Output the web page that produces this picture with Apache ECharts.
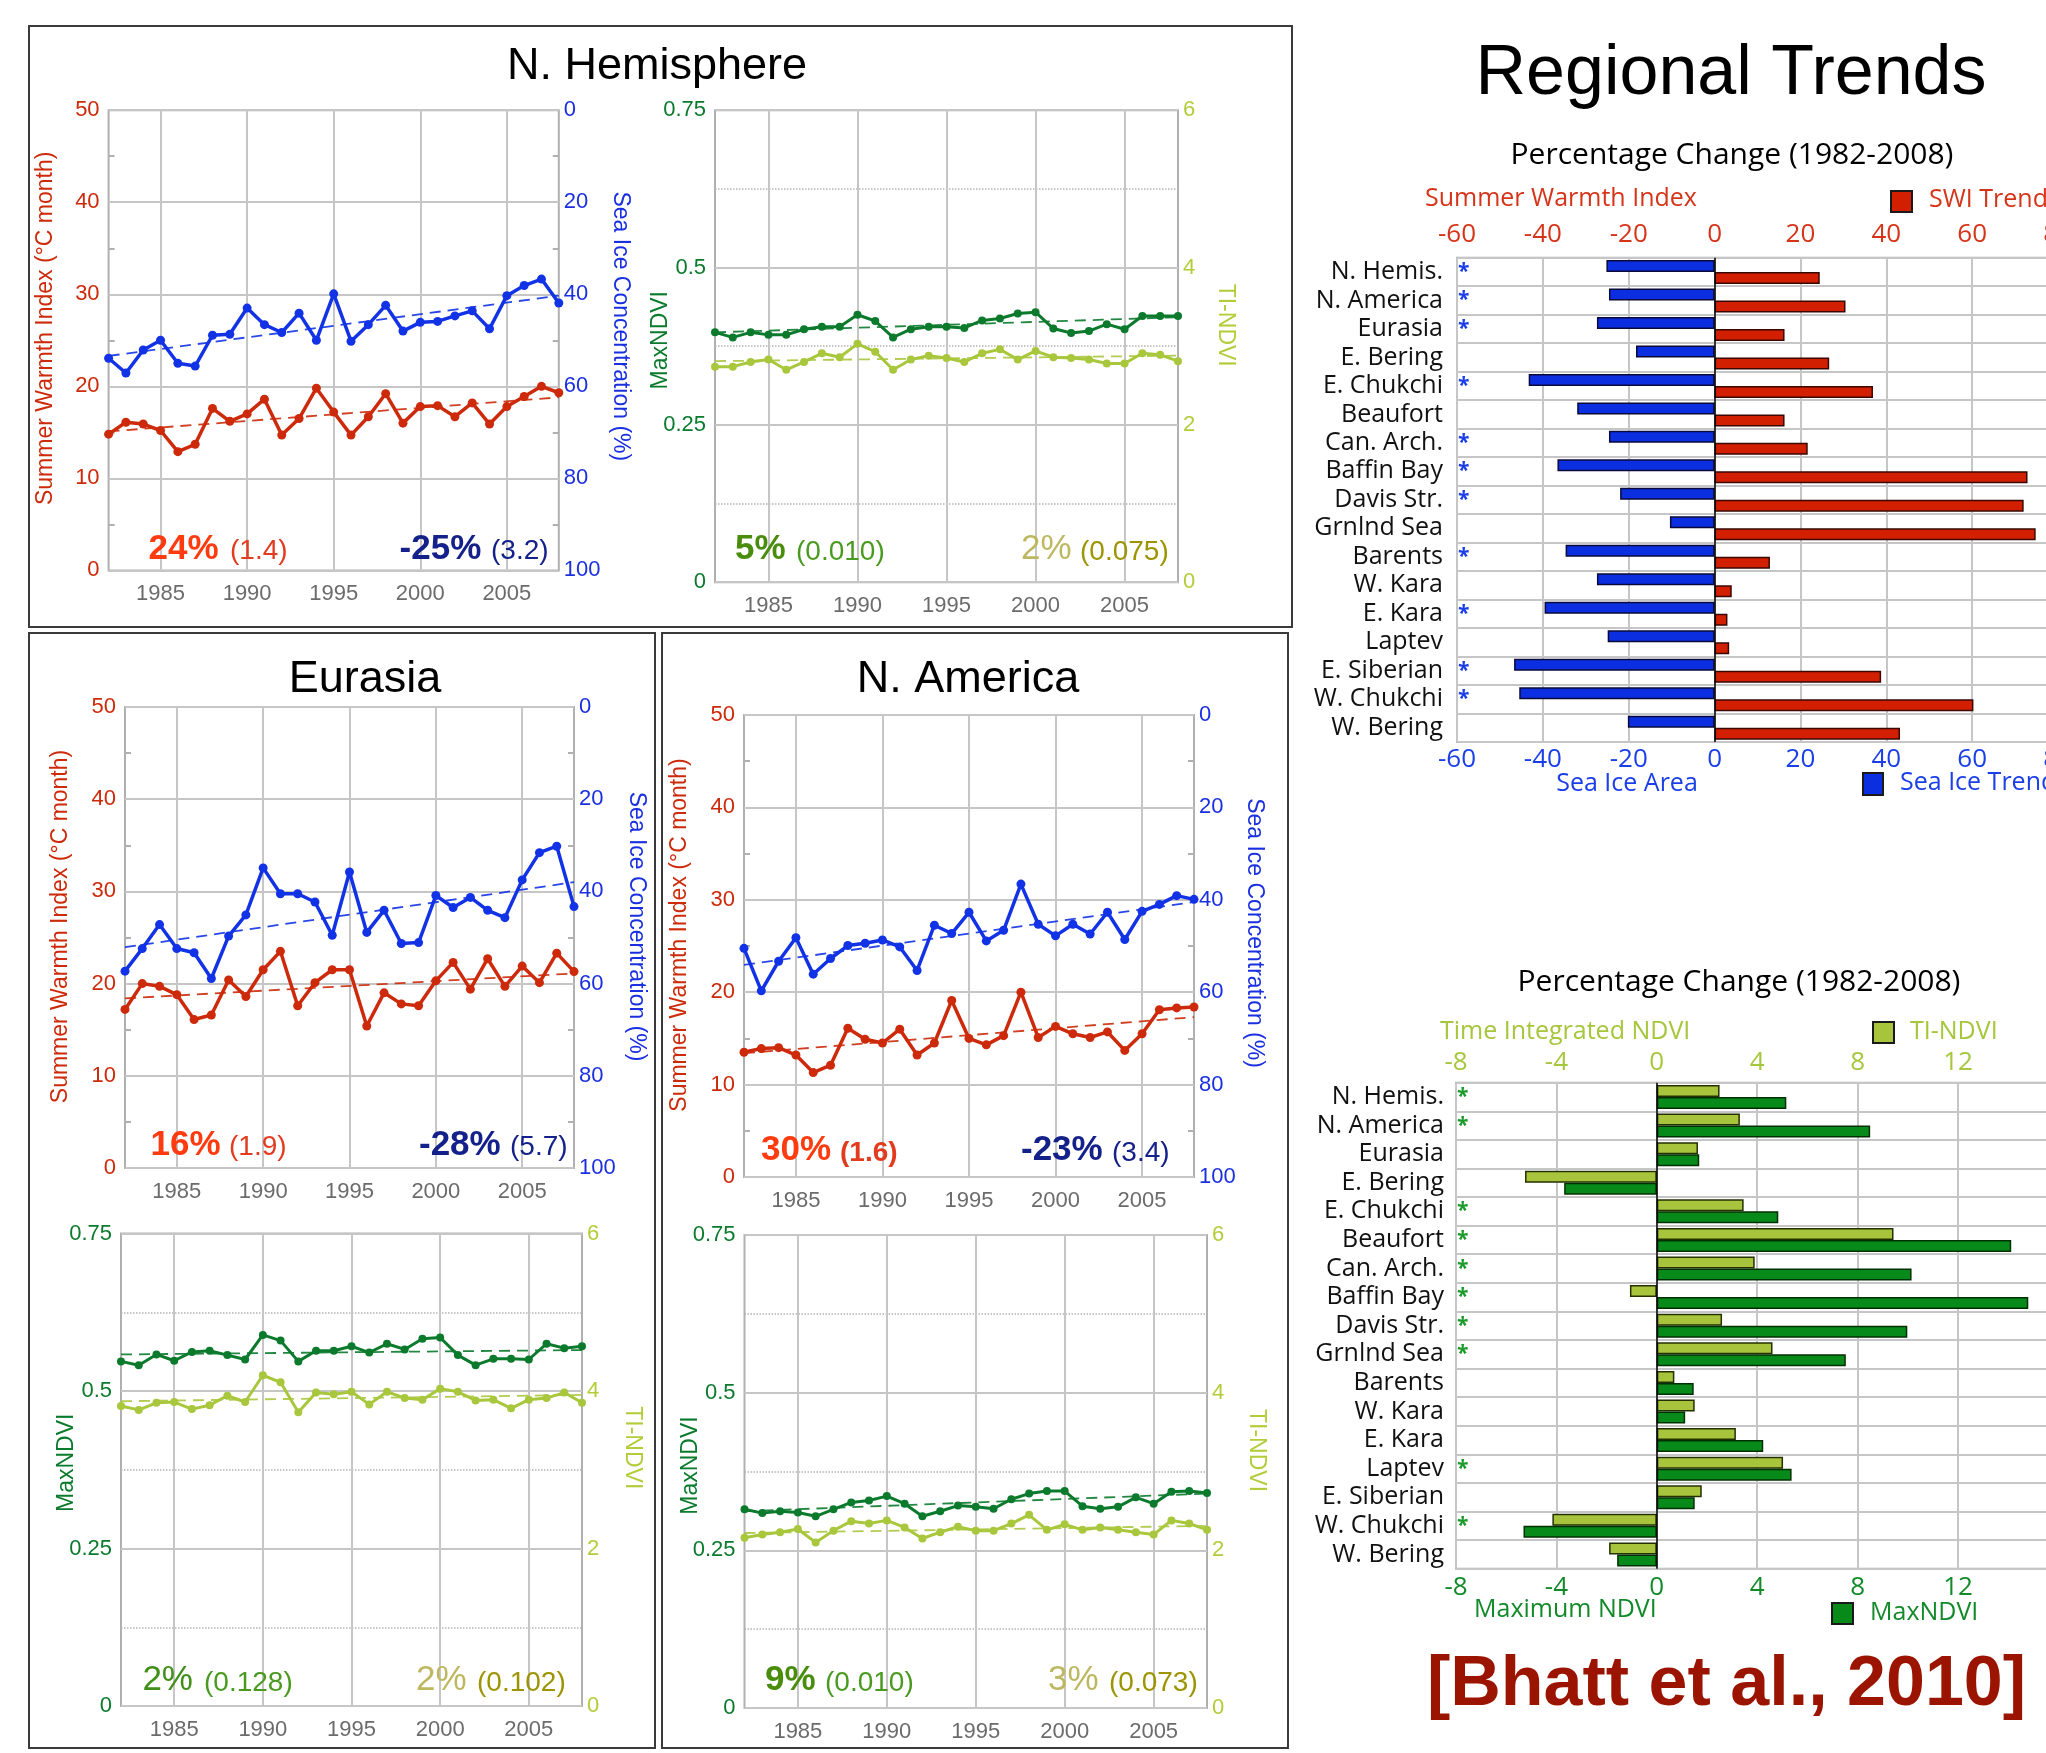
<!DOCTYPE html>
<html><head><meta charset="utf-8">
<script src="https://cdn.jsdelivr.net/npm/echarts@6/dist/echarts.min.js"></script>
<style>html,body{margin:0;padding:0;background:#fff;overflow:hidden}#c{width:2046px;height:1753px}</style>
</head><body><div id="c"></div><script>
// ---------- data ----------
const years = ['1982','1983','1984','1985','1986','1987','1988','1989','1990','1991','1992','1993','1994','1995','1996','1997','1998','1999','2000','2001','2002','2003','2004','2005','2006','2007','2008'];

const nhSwi = [14.8,16.1,15.9,15.2,12.9,13.7,17.6,16.2,17.0,18.6,14.7,16.5,19.8,17.2,14.7,16.7,19.2,16.0,17.8,17.9,16.7,18.2,15.9,17.8,18.9,20.0,19.3];
const nhIce = [53.9,57.1,52.1,50.0,55.0,55.6,48.9,48.7,43.0,46.6,48.3,44.1,50.0,39.9,50.2,46.6,42.4,48.0,46.1,45.9,44.7,43.6,47.5,40.3,38.1,36.7,41.9];
const nhMax = [0.397,0.389,0.397,0.393,0.393,0.402,0.406,0.406,0.425,0.415,0.389,0.402,0.406,0.406,0.404,0.416,0.419,0.427,0.429,0.403,0.396,0.399,0.410,0.402,0.423,0.423,0.423];
const nhTi = [2.74,2.74,2.80,2.83,2.70,2.80,2.91,2.86,3.03,2.93,2.70,2.83,2.88,2.85,2.80,2.91,2.96,2.83,2.94,2.86,2.85,2.83,2.78,2.78,2.91,2.89,2.81];
const nhSwiFit = [15.1, 18.8], nhIceFit = [53.4, 40.3], nhMaxFit = [0.397, 0.421], nhTiFit = [2.81, 2.88];

const euSwi = [17.2,20.0,19.7,18.8,16.1,16.6,20.4,18.6,21.5,23.5,17.6,20.1,21.5,21.5,15.4,19.0,17.8,17.6,20.3,22.3,19.4,22.7,19.7,21.9,20.1,23.3,21.3];
const euIce = [57.3,52.4,47.2,52.4,53.3,58.9,49.7,45.1,34.9,40.5,40.5,42.3,49.5,35.8,48.9,44.1,51.3,51.1,40.9,43.5,41.3,44.1,45.7,37.5,31.6,30.2,43.3];
const euMax = [0.547,0.541,0.558,0.548,0.562,0.564,0.557,0.550,0.589,0.580,0.547,0.564,0.564,0.571,0.561,0.575,0.566,0.583,0.585,0.557,0.541,0.551,0.551,0.550,0.575,0.568,0.571];
const euTi = [3.81,3.76,3.85,3.86,3.77,3.82,3.94,3.86,4.20,4.11,3.73,3.98,3.96,3.99,3.83,3.99,3.91,3.89,4.03,3.99,3.88,3.89,3.78,3.89,3.91,3.98,3.85];
const euSwiFit = [18.4, 21.1], euIceFit = [52.1, 38.0], euMaxFit = [0.558, 0.565], euTiFit = [3.87, 3.95];

const naSwi = [13.5,13.9,14.0,13.2,11.3,12.1,16.1,14.9,14.5,16.0,13.2,14.5,19.1,15.0,14.3,15.3,20.0,15.1,16.3,15.5,15.1,15.7,13.7,15.5,18.1,18.3,18.4];
const naIce = [50.5,59.7,53.3,48.2,56.1,52.7,49.9,49.4,48.7,50.2,55.3,45.5,47.3,42.7,48.9,46.6,36.6,45.3,47.8,45.3,47.4,42.7,48.6,42.5,41.0,39.1,39.9];
const naMax = [0.315,0.309,0.312,0.310,0.304,0.315,0.326,0.329,0.336,0.324,0.304,0.312,0.321,0.319,0.316,0.331,0.340,0.344,0.344,0.320,0.316,0.319,0.334,0.324,0.343,0.344,0.341];
const naTi = [2.16,2.20,2.23,2.27,2.10,2.25,2.37,2.34,2.38,2.29,2.15,2.23,2.30,2.25,2.25,2.34,2.45,2.26,2.33,2.26,2.29,2.26,2.23,2.20,2.38,2.34,2.26];
const naSwiFit = [13.4, 17.3], naIceFit = [54.1, 40.5], naMaxFit = [0.312, 0.340], naTiFit = [2.22, 2.31];

const regions = ['N. Hemis.','N. America','Eurasia','E. Bering','E. Chukchi','Beaufort','Can. Arch.','Baffin Bay','Davis Str.','Grnlnd Sea','Barents','W. Kara','E. Kara','Laptev','E. Siberian','W. Chukchi','W. Bering'];
const seaIceArea = [-25.2,-24.6,-27.4,-18.3,-43.3,-32.0,-24.6,-36.6,-22.0,-10.4,-34.7,-27.4,-39.6,-24.9,-46.7,-45.5,-20.2];
const swiPct = [24.5,30.5,16.3,26.7,36.9,16.3,21.7,72.9,72.0,74.8,12.9,4.0,3.0,3.4,38.8,60.3,43.2];
const tiNdviPct = [2.5,3.31,1.64,-5.25,3.46,9.43,3.90,-1.07,2.60,4.61,0.70,1.51,3.15,5.03,1.79,-4.16,-1.90];
const maxNdviPct = [5.16,8.5,1.69,-3.69,4.84,14.12,10.15,14.8,9.98,7.53,1.47,1.13,4.24,5.37,1.51,-5.31,-1.58];
const iceSig = [1,1,1,0,1,0,1,1,1,0,1,0,1,0,1,1,0];
const ndviSig = [1,1,0,0,1,1,1,1,1,1,0,0,0,1,0,1,0];

const swiTicks = [-60,-40,-20,0,20,40,60,80];
const ndviTicks = [-8,-4,0,4,8,12,16];

// ---------- styling ----------
const ARIAL = '"Liberation Sans", Arial, Helvetica, sans-serif';
const OPEN = '"Open Sans", sans-serif';
const C = {
  swi: '#cc2a0a', ice: '#1232e6', max: '#0b7a2c', ti: '#a9c73d',
  swiLab: '#cc2a0a', iceLab: '#1a30e0', maxLab: '#0b7a2c', tiLab: '#b3cd3a',
  grid: '#c6c6c6', frame: '#b0b0b0', year: '#6b6b6b'
};

const grids = [], xAxis = [], yAxis = [], series = [];

function lineChart(o) {
  const gi = grids.length;
  grids.push({left: o.rect[0], top: o.rect[1], width: o.rect[2], height: o.rect[3], show: true,
    borderColor: C.frame, borderWidth: 2, backgroundColor: '#fff', containLabel: false, outerBoundsMode: 'none'});
  const xi = xAxis.length;
  xAxis.push({gridIndex: gi, type: 'category', data: years, boundaryGap: false,
    axisLine: {show: false}, axisTick: {show: false},
    axisLabel: {interval: (i, v) => Number(v) % 5 === 0, color: C.year, fontSize: 22, fontFamily: ARIAL, margin: 13},
    splitLine: {show: true, interval: (i, v) => Number(v) % 5 === 0, lineStyle: {color: C.grid, width: 2}}});
  const L = o.left, R = o.right;
  const yl = yAxis.length;
  yAxis.push(Object.assign({gridIndex: gi, type: 'value', position: 'left', min: L.min, max: L.max, interval: L.interval,
    name: L.name, nameLocation: 'middle', nameRotate: 90, nameGap: L.gap, nameMoveOverlap: false,
    nameTextStyle: {color: L.color, fontSize: 23, fontFamily: ARIAL, padding: [0, 0, 0, L.up * 2]},
    axisLine: {show: false}, axisTick: {show: false, inside: true},
    axisLabel: {color: L.color, fontSize: 22, fontFamily: ARIAL, margin: 9, padding: [0, 0, 8, 0]},
    splitLine: {show: true, lineStyle: {color: C.grid, width: 2}}}, o.extra));
  const yr = yAxis.length;
  yAxis.push(Object.assign({gridIndex: gi, type: 'value', position: 'right', min: R.min, max: R.max, interval: R.interval,
    inverse: !!R.inverse,
    name: R.name, nameLocation: 'middle', nameRotate: -90, nameGap: R.gap, nameMoveOverlap: false,
    nameTextStyle: {color: R.color, fontSize: 23, fontFamily: ARIAL, padding: [0, R.up * 2, 0, 0]},
    axisLine: {show: false}, axisTick: {show: false, inside: true},
    axisLabel: {color: R.color, fontSize: 22, fontFamily: ARIAL, margin: 5, padding: [12, 0, 0, 0]},
    splitLine: {show: false}}, o.extraR));
  for (const s of o.series) {
    const ya = s.axis === 'r' ? yr : yl;
    series.push({type: 'line', xAxisIndex: xi, yAxisIndex: ya, data: s.data, symbol: 'circle', symbolSize: s.size,
      showSymbol: true, lineStyle: {color: s.color, width: s.width}, itemStyle: {color: s.color}, z: 4, silent: true});
    series.push({type: 'line', xAxisIndex: xi, yAxisIndex: ya,
      data: [[years[0], s.fit[0]], [years[years.length - 1], s.fit[1]]], symbol: 'none',
      lineStyle: {color: s.color, width: 1.8, type: [11, 7], opacity: 0.9}, z: 3, silent: true});
  }
}

function swiChart(rect, swi, ice, swiFit, iceFit, g) {
  lineChart({rect,
    left: {min: 0, max: 50, interval: 10, name: 'Summer Warmth Index (°C month)', color: C.swiLab, gap: g[0], up: g[1]},
    right: {min: 0, max: 100, interval: 20, inverse: true, name: 'Sea Ice Concentration (%)', color: C.iceLab, gap: g[2], up: g[3]},
    extra: {minorTick: {show: true, splitNumber: 2, length: 6, lineStyle: {color: C.frame, width: 2}}},
    extraR: {minorTick: {show: true, splitNumber: 2, length: 6, lineStyle: {color: C.frame, width: 2}}},
    series: [
      {data: ice, fit: iceFit, color: C.ice, axis: 'r', size: 9, width: 3.5},
      {data: swi, fit: swiFit, color: C.swi, axis: 'l', size: 9, width: 3.5}
    ]});
}
function ndviChart(rect, mx, ti, mxFit, tiFit, g) {
  lineChart({rect,
    left: {min: 0, max: 0.75, interval: 0.25, name: 'MaxNDVI', color: C.maxLab, gap: g[0], up: g[1]},
    right: {min: 0, max: 6, interval: 2, name: 'TI-NDVI', color: C.tiLab, gap: g[2], up: g[3]},
    extra: {minorTick: {show: false, splitNumber: 2}, minorSplitLine: {show: true, lineStyle: {color: '#b4b4b4', type: 'dotted', width: 1.5}}},
    extraR: {},
    series: [
      {data: ti, fit: tiFit, color: C.ti, axis: 'r', size: 8, width: 3},
      {data: mx, fit: mxFit, color: C.max, axis: 'l', size: 8, width: 3}
    ]});
}

swiChart([108.6, 110.2, 450.2, 460.2], nhSwi, nhIce, nhSwiFit, nhIceFit, [51, 12, 50, 14]);
ndviChart([715, 110.2, 463, 472], nhMax, nhTi, nhMaxFit, nhTiFit, [43, 6, 36, 21]);
swiChart([125, 707, 449, 461], euSwi, euIce, euSwiFit, euIceFit, [53, 11, 51, 11]);
swiChart([744, 715, 450, 462], naSwi, naIce, naSwiFit, naIceFit, [53, 11, 49, 13]);
ndviChart([121, 1233.5, 461, 472.5], euMax, euTi, euMaxFit, euTiFit, [43, 7, 39, 22]);
ndviChart([744.5, 1235, 462.5, 473], naMax, naTi, naMaxFit, naTiFit, [42, 6, 38, 21]);

function barChart(o) {
  const gi = grids.length;
  grids.push({left: o.rect[0], top: o.rect[1], width: o.rect[2], height: o.rect[3], show: true,
    borderColor: C.frame, borderWidth: 2, containLabel: false, outerBoundsMode: 'none'});
  const min = o.ticks[0], max = o.ticks[o.ticks.length - 1], interval = o.ticks[1] - o.ticks[0];
  const xt = xAxis.length;
  xAxis.push({gridIndex: gi, type: 'value', position: 'top', min, max, interval,
    axisLine: {show: false}, axisTick: {show: false},
    axisLabel: {color: o.topColor, fontSize: 26, fontFamily: OPEN, margin: o.topMargin},
    splitLine: {show: true, lineStyle: {color: C.grid, width: 2}}});
  const xb = xAxis.length;
  xAxis.push({gridIndex: gi, type: 'value', position: 'bottom', min, max, interval,
    axisLine: {show: false}, axisTick: {show: false},
    axisLabel: {color: o.botColor, fontSize: 26, fontFamily: OPEN, margin: o.botMargin},
    splitLine: {show: false}});
  const yc = yAxis.length;
  yAxis.push({gridIndex: gi, type: 'category', data: regions, inverse: true, position: 'left',
    axisLine: {show: false}, axisTick: {show: false},
    axisLabel: {interval: 0, color: '#111', fontSize: 25, fontFamily: OPEN, margin: o.catMargin, padding: [0, 0, 8, 0]},
    splitLine: {show: true, interval: 0, lineStyle: {color: C.grid, width: 2}}});
  const ys = yAxis.length;
  yAxis.push({gridIndex: gi, type: 'category', data: regions, inverse: true, position: 'left',
    axisLine: {show: false}, axisTick: {show: false}, splitLine: {show: false},
    axisLabel: {interval: 0, inside: true, margin: 1, formatter: (v, i) => (o.sig[i] ? '*' : ''),
      color: o.starColor, fontSize: 21, fontWeight: 'bold', fontFamily: OPEN, padding: [31, 0, 0, 0]}});
  series.push({type: 'bar', xAxisIndex: o.first.top ? xt : xb, yAxisIndex: yc, data: o.first.data,
    barWidth: 12, barGap: '0%', silent: true,
    itemStyle: {color: o.first.color, borderColor: o.first.border, borderWidth: 1.5}});
  series.push({type: 'bar', xAxisIndex: o.second.top ? xt : xb, yAxisIndex: yc, data: o.second.data,
    barWidth: 12, barGap: '0%', silent: true,
    itemStyle: {color: o.second.color, borderColor: o.second.border, borderWidth: 1.5},
    markLine: {silent: true, symbol: ['none', 'none'], label: {show: false},
      lineStyle: {color: '#000', width: 1.5, type: 'solid'}, data: [{xAxis: 0}]}});
}

barChart({rect: [1457, 257.7, 601, 484.3], ticks: swiTicks,
  topColor: '#d63418', botColor: '#1a3ee8', topMargin: 10, botMargin: 5, catMargin: 14,
  sig: iceSig, starColor: '#1a3ee8',
  first: {data: seaIceArea, color: '#0a2ee0', border: '#0a0a3a', top: false},
  second: {data: swiPct, color: '#d21f00', border: '#3a0800', top: true}});
barChart({rect: [1456, 1082.7, 602.4, 486], ticks: ndviTicks,
  topColor: '#a6c63c', botColor: '#138a2a', topMargin: 7, botMargin: 6, catMargin: 12,
  sig: ndviSig, starColor: '#1a9a2a',
  first: {data: tiNdviPct, color: '#a8c43c', border: '#243000', top: true},
  second: {data: maxNdviPct, color: '#078a1a', border: '#033003', top: false}});

// ---------- graphic text & frames ----------
const graphic = [];
function rect(x, y, w, h) {
  graphic.push({type: 'rect', shape: {x, y, width: w, height: h}, style: {fill: 'none', stroke: '#3a3a3a', lineWidth: 2}, z: 50});
}
function txt(x, y, text, font, fill, align) {
  graphic.push({type: 'text', x, y, z: 60, style: {text, font, fill, align: align || 'left', verticalAlign: 'middle'}});
}
function ann(x, base, text, size, bold, fill) {
  txt(x, base - 0.35 * size, text, (bold ? 'bold ' : '') + size + 'px ' + ARIAL, fill, 'left');
}
function box(x, y, w, h, fill) {
  graphic.push({type: 'rect', shape: {x, y, width: w, height: h}, style: {fill, stroke: '#1a1a1a', lineWidth: 2}, z: 60});
}

rect(29, 26, 1263, 601);
rect(29, 633, 626, 1115);
rect(662, 633, 626, 1115);

txt(657, 67, 'N. Hemisphere', '45px ' + ARIAL, '#000', 'center');
txt(365, 680, 'Eurasia', '45px ' + ARIAL, '#000', 'center');
txt(968, 680, 'N. America', '45px ' + ARIAL, '#000', 'center');

const P_SWI = '#ff3b0f', P_SWI2 = '#e33b1f', P_ICE = '#15218a', P_MAX = '#4a8c0c', P_MAX2 = '#4a9a20', P_TI = '#bdb860', P_TI2 = '#9c9400';
// N. Hemisphere
ann(148.6, 561.5, '24%', 35, true, P_SWI); ann(230, 561.5, '(1.4)', 28, false, P_SWI2);
ann(399.6, 561.5, '-25%', 35, true, P_ICE); ann(491, 561.5, '(3.2)', 28, false, P_ICE);
ann(735, 562, '5%', 35, true, P_MAX); ann(796, 562, '(0.010)', 28, false, P_MAX2);
ann(1021, 562, '2%', 35, false, P_TI); ann(1080, 562, '(0.075)', 28, false, P_TI2);
// Eurasia
ann(150.6, 1157.5, '16%', 35, true, P_SWI); ann(229, 1157.5, '(1.9)', 28, false, P_SWI2);
ann(419, 1157.5, '-28%', 35, true, P_ICE); ann(510, 1157.5, '(5.7)', 28, false, P_ICE);
ann(142.4, 1693, '2%', 35, false, '#3f8f18'); ann(204, 1693, '(0.128)', 28, false, P_MAX2);
ann(416, 1693, '2%', 35, false, P_TI); ann(477, 1693, '(0.102)', 28, false, P_TI2);
// N. America
ann(761, 1163, '30%', 35, true, P_SWI); ann(840, 1163, '(1.6)', 28, true, P_SWI2);
ann(1021, 1163, '-23%', 35, true, P_ICE); ann(1112, 1163, '(3.4)', 28, false, P_ICE);
ann(765, 1693, '9%', 35, true, P_MAX); ann(825, 1693, '(0.010)', 28, false, P_MAX2);
ann(1048, 1693, '3%', 35, false, P_TI); ann(1109, 1693, '(0.073)', 28, false, P_TI2);

// Regional trends
txt(1731, 75, 'Regional Trends', '70px ' + ARIAL, '#000', 'center');
txt(1732, 155.5, 'Percentage Change (1982-2008)', '30px ' + OPEN, '#000', 'center');
txt(1425, 199, 'Summer Warmth Index', '25px ' + OPEN, '#d63418', 'left');
box(1891, 191, 21, 21, '#d21f00');
txt(1929, 200, 'SWI Trend', '25px ' + OPEN, '#d63418', 'left');
txt(1627, 784, 'Sea Ice Area', '25px ' + OPEN, '#1a3ee8', 'center');
box(1863, 773, 20, 22, '#0a2ee0');
txt(1900, 783, 'Sea Ice Trend', '25px ' + OPEN, '#1a3ee8', 'left');

txt(1739, 982, 'Percentage Change (1982-2008)', '30px ' + OPEN, '#000', 'center');
txt(1440, 1032, 'Time Integrated NDVI', '25px ' + OPEN, '#a6c63c', 'left');
box(1873, 1022, 21, 21, '#a8c43c');
txt(1910, 1032, 'TI-NDVI', '25px ' + OPEN, '#a6c63c', 'left');
txt(1474, 1610, 'Maximum NDVI', '25px ' + OPEN, '#138a2a', 'left');
box(1832, 1603, 21, 21, '#078a1a');
txt(1870, 1613, 'MaxNDVI', '25px ' + OPEN, '#138a2a', 'left');

txt(1427, 1686, '[Bhatt et al., 2010]', 'bold 70px ' + ARIAL, '#9a1400', 'left');

const chart = echarts.init(document.getElementById('c'), null, {renderer: 'canvas', width: 2046, height: 1753});
chart.setOption({
  backgroundColor: '#fff',
  animation: false,
  grid: grids, xAxis, yAxis, series, graphic
});
</script></body></html>
